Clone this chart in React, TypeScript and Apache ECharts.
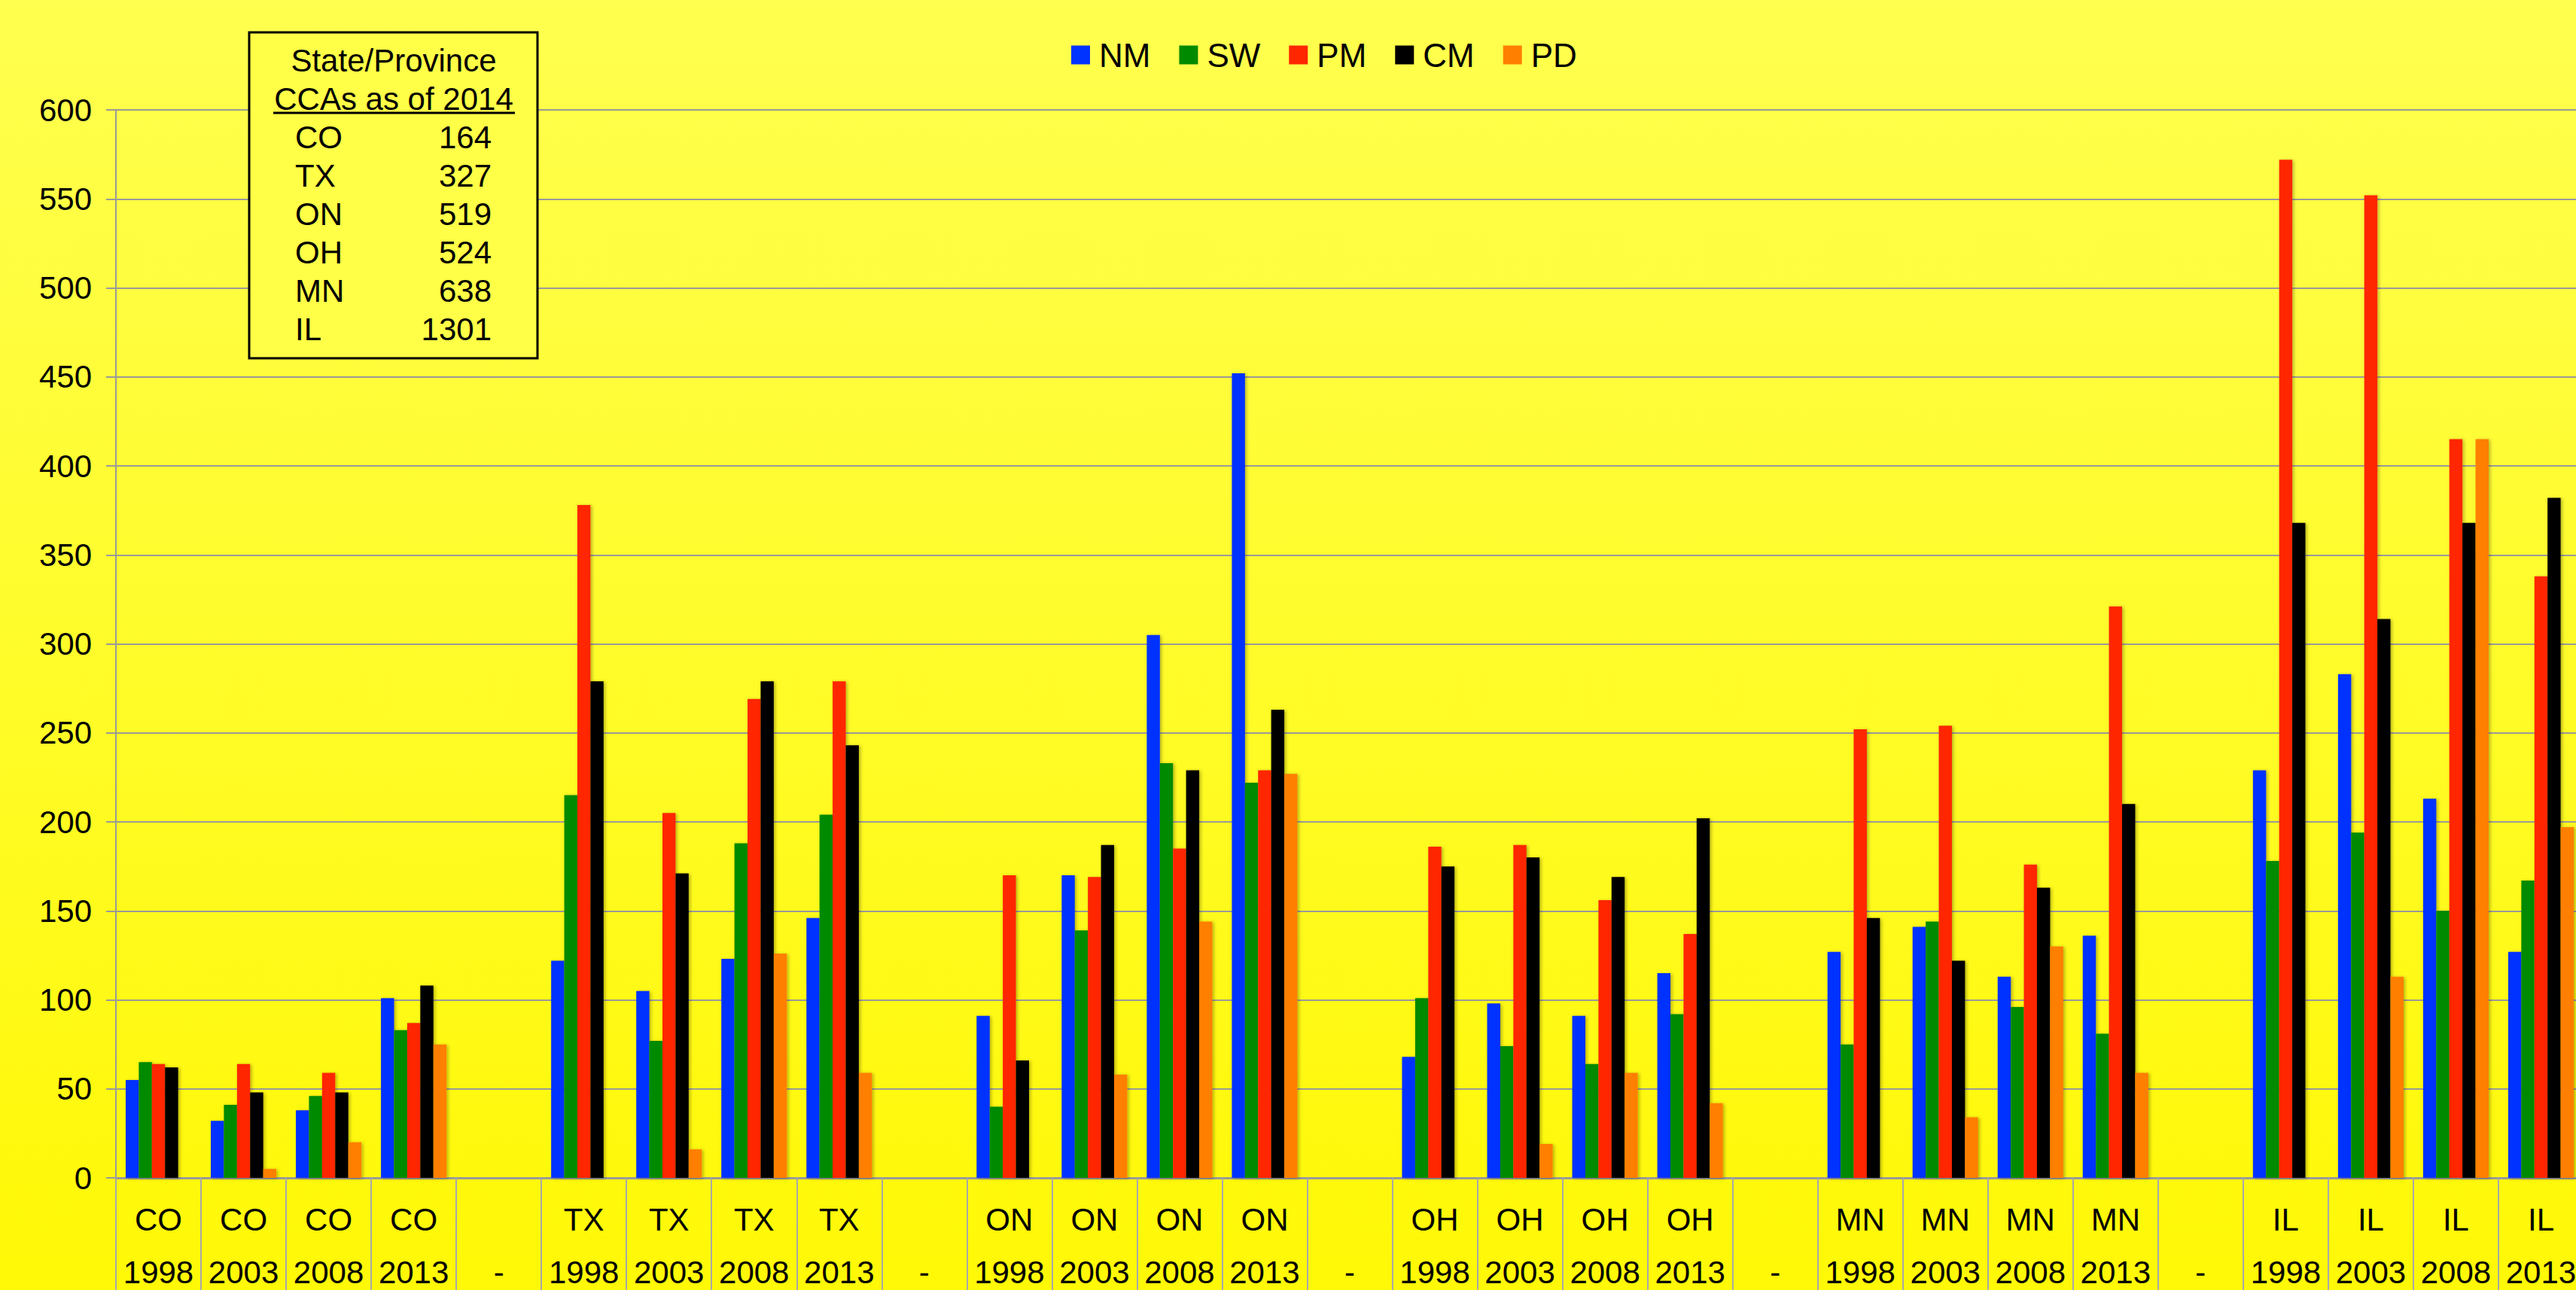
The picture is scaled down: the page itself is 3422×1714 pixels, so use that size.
import React, { useEffect, useRef } from 'react';
import * as echarts from 'echarts';

const states = ['CO','CO','CO','CO','','TX','TX','TX','TX','','ON','ON','ON','ON','','OH','OH','OH','OH','','MN','MN','MN','MN','','IL','IL','IL','IL'];
const years = ['1998','2003','2008','2013','-','1998','2003','2008','2013','-','1998','2003','2008','2013','-','1998','2003','2008','2013','-','1998','2003','2008','2013','-','1998','2003','2008','2013'];

const seriesNames = ['NM', 'SW', 'PM', 'CM', 'PD'];
const seriesColors = ['#0033FF', '#008A00', '#FF2600', '#000000', '#FF7F00'];

const NM = [55, 32, 38, 101, null, 122, 105, 123, 146, null, 91, 170, 305, 452, null, 68, 98, 91, 115, null, 127, 141, 113, 136, null, 229, 283, 213, 127];
const SW = [65, 41, 46, 83, null, 215, 77, 188, 204, null, 40, 139, 233, 222, null, 101, 74, 64, 92, null, 75, 144, 96, 81, null, 178, 194, 150, 167];
const PM = [64, 64, 59, 87, null, 378, 205, 269, 279, null, 170, 169, 185, 229, null, 186, 187, 156, 137, null, 252, 254, 176, 321, null, 572, 552, 415, 338];
const CM = [62, 48, 48, 108, null, 279, 171, 279, 243, null, 66, 187, 229, 263, null, 175, 180, 169, 202, null, 146, 122, 163, 210, null, 368, 314, 368, 382];
const PD = [null, 5, 20, 75, null, null, 16, 126, 59, null, null, 58, 144, 227, null, null, 19, 59, 42, null, null, 34, 130, 59, null, null, 113, 415, 197];

const boxTitle1 = 'State/Province';
const boxTitle2 = 'CCAs as of 2014';
const boxStates = ['CO', 'TX', 'ON', 'OH', 'MN', 'IL'];
const boxCounts = ['164', '327', '519', '524', '638', '1301'];

const yMin = 0;
const yMax = 600;
const yInterval = 50;

const FONT = "'Liberation Sans', Arial, sans-serif";

export default function App() {
  const ref = useRef<HTMLDivElement>(null);

  useEffect(() => {
    if (!ref.current) return;
    const chart = echarts.init(ref.current, undefined, { renderer: 'svg' });
    const values = [NM, SW, PM, CM, PD];

    const graphics: any[] = [
      {
        type: 'rect',
        shape: { x: 331, y: 43, width: 383, height: 433 },
        style: { fill: '#FFFF47', stroke: '#000', lineWidth: 3 },
        z: 100,
      },
      {
        type: 'text',
        x: 523, y: 80,
        style: { text: boxTitle1, font: `42px ${FONT}`, fill: '#000', textAlign: 'center', textVerticalAlign: 'middle' },
        z: 101,
      },
      {
        type: 'text',
        x: 523, y: 131,
        style: { text: boxTitle2, font: `42px ${FONT}`, fill: '#000', textAlign: 'center', textVerticalAlign: 'middle' },
        z: 101,
      },
      {
        type: 'line',
        shape: { x1: 363, y1: 150, x2: 684, y2: 150 },
        style: { stroke: '#000', lineWidth: 3 },
        z: 101,
      },
    ];
    boxStates.forEach((s, i) => {
      const y = 182 + i * 51;
      graphics.push({
        type: 'text', x: 392, y,
        style: { text: s, font: `42px ${FONT}`, fill: '#000', textAlign: 'left', textVerticalAlign: 'middle' },
        z: 101,
      });
      graphics.push({
        type: 'text', x: 653, y,
        style: { text: boxCounts[i], font: `42px ${FONT}`, fill: '#000', textAlign: 'right', textVerticalAlign: 'middle' },
        z: 101,
      });
    });

    chart.setOption({
      animation: false,
      backgroundColor: {
        type: 'linear', x: 0, y: 0, x2: 0, y2: 1,
        colorStops: [
          { offset: 0, color: '#FFFF4F' },
          { offset: 1, color: '#FFF806' },
        ],
      },
      textStyle: { fontFamily: FONT },
      legend: {
        left: 1418,
        top: 46,
        itemWidth: 25,
        itemHeight: 25,
        itemGap: 38,
        icon: 'rect',
        data: seriesNames,
        textStyle: { fontSize: 44, color: '#000', fontFamily: FONT, padding: [0, 0, 0, 7] },
      },
      grid: {
        left: 154, right: -10, top: 146, bottom: 149,
        containLabel: false,
        outerBoundsMode: 'none',
      },
      xAxis: {
        type: 'category',
        data: states.map((s, i) => s + '\n' + years[i]),
        boundaryGap: true,
        axisLine: { show: true, lineStyle: { color: '#9A9A9A', width: 3 } },
        axisTick: { show: true, interval: 0, length: 150, lineStyle: { color: '#A8A8A8', width: 2 } },
        axisLabel: {
          interval: 0,
          fontSize: 42,
          lineHeight: 70,
          color: '#000',
          fontFamily: FONT,
          margin: 20,
        },
        splitLine: { show: false },
      },
      yAxis: {
        type: 'value',
        min: yMin,
        max: yMax,
        interval: yInterval,
        axisLine: { show: true, lineStyle: { color: '#9A9A9A', width: 2 } },
        axisTick: { show: true, length: 13, lineStyle: { color: '#9A9A9A', width: 2 } },
        axisLabel: { fontSize: 42, color: '#000', fontFamily: FONT, margin: 32 },
        splitLine: { show: true, lineStyle: { color: '#9A9A9A', width: 2 } },
      },
      series: seriesNames.map((name, k) => ({
        name,
        type: 'bar',
        data: values[k],
        barGap: '0%',
        barCategoryGap: '23%',
        itemStyle: {
          color: seriesColors[k],
          shadowColor: 'rgba(0,0,0,0.3)',
          shadowBlur: 4,
          shadowOffsetX: 2,
          shadowOffsetY: 1,
        },
      })),
      graphic: graphics,
    });

    return () => chart.dispose();
  }, []);

  return (
    <div
      ref={ref}
      style={{ position: 'absolute', left: 0, top: 0, width: 3422, height: 1714 }}
    />
  );
}
